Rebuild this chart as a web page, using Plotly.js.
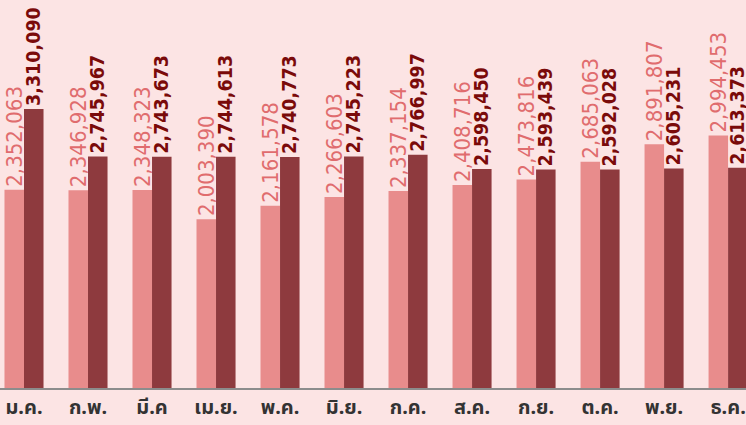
<!DOCTYPE html>
<html><head><meta charset="utf-8">
<script src="https://cdn.plot.ly/plotly-3.0.1.min.js"></script>
<style>html,body{margin:0;padding:0;background:#fce4e4;}</style>
</head><body>
<div id="chart" style="width:746px;height:425px;"></div>
<script>
const months = ['ม.ค.','ก.พ.','มี.ค','เม.ย.','พ.ค.','มิ.ย.','ก.ค.','ส.ค.','ก.ย.','ต.ค.','พ.ย.','ธ.ค.'];
const series1 = [2352063,2346928,2348323,2003390,2161578,2266603,2337154,2408716,2473816,2685063,2891807,2994453];
const series2 = [3310090,2745967,2743673,2744613,2740773,2745223,2766997,2598450,2593439,2592028,2605231,2613373];
const fmt = v => v.toLocaleString('en-US');
const font = '"DejaVu Sans Condensed", "DejaVu Sans", sans-serif';
const tickFont = '"Noto Sans", "Noto Sans Thai", "DejaVu Sans", sans-serif';
const data = [
  {type:'bar', x:months, y:series1, marker:{color:'#e88c8c'},
   text:series1.map(fmt), textposition:'outside', textangle:-90, constraintext:'none', cliponaxis:false,
   textfont:{family:font, size:22, color:'#e06c6e'}, hoverinfo:'none'},
  {type:'bar', x:months, y:series2, marker:{color:'#8e3a3e'},
   text:series2.map(fmt), textposition:'outside', textangle:-90, constraintext:'none', cliponaxis:false,
   textfont:{family:font, size:19.5, color:'#7a0a0a', weight:'bold'}, hoverinfo:'none'}
];
const layout = {
  width:746, height:425,
  margin:{l:0, r:0, t:0, b:37},
  paper_bgcolor:'#fce4e4', plot_bgcolor:'#fce4e4',
  showlegend:false, barmode:'group', bargap:0.39, bargroupgap:0,
  xaxis:{range:[-0.375, 11.28], showline:true, linecolor:'#8c8c8c', linewidth:1.5, ticks:'',
    tickfont:{family:tickFont, size:20, color:'#333333', weight:'bold'}, showgrid:false},
  yaxis:{range:[0, 4603000], visible:false, showgrid:false, zeroline:false}
};
Plotly.newPlot('chart', data, layout, {displayModeBar:false, staticPlot:true});
</script>
</body></html>
